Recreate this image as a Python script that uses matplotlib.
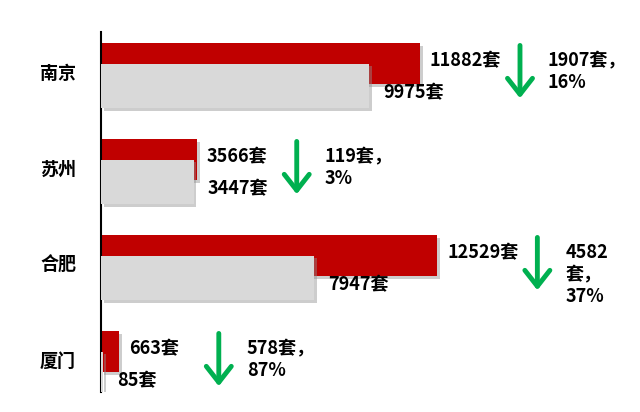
import numpy as np
import matplotlib
matplotlib.use('Agg')
from matplotlib import pyplot as plt
from matplotlib import patheffects
from matplotlib.transforms import offset_copy

plt.rcParams['font.family'] = ['Noto Sans CJK SC', 'DejaVu Sans']

cities = ['南京', '苏州', '合肥', '厦门']
before = [11882, 3566, 12529, 663]
after = [9975, 3447, 7947, 85]
change_labels = ['1907套，\n16%', '119套，\n3%', '4582\n套，\n37%', '578套，\n87%']

_red = '#C00000'
_gray = '#D9D9D9'
_green = '#00B050'
_px = 0.72  # pixels -> points at 100 dpi

fig = plt.figure(figsize=(6.4, 4.12), dpi=100)
ax = fig.add_axes([101/640, 20/412, 539/640, 360/412])

shadow = [patheffects.withSimplePatchShadow(offset=(2, -2), shadow_rgbFace='#909090', alpha=0.45)]
rows = np.arange(len(cities))
ax.barh(rows, before, height=0.43, color=_red, path_effects=shadow, zorder=2)
ax.barh(rows + 0.23, after, height=0.46, color=_gray, path_effects=shadow, zorder=3)

txt = dict(fontsize=13, fontweight='bold', color='black', zorder=5)
for i, (b, a, lab) in enumerate(zip(before, after, change_labels)):
    ax.annotate(f'{b}套', xy=(b, i - 0.03), xytext=(10*_px, 0), textcoords='offset points',
                ha='left', va='center', **txt)
    ax.annotate(f'{a}套', xy=(a, i + 0.3), xytext=(14*_px, 0), textcoords='offset points',
                ha='left', va='center', **txt)
    # green arrow and change text sit to the right of the red bar
    tr = offset_copy(ax.transData, fig=fig, x=100*_px, y=0, units='points')
    ax.annotate('', xy=(b, i + 0.36), xycoords=tr, xytext=(b, i - 0.19), textcoords=tr,
                arrowprops=dict(arrowstyle='->,head_length=1.15,head_width=0.9', lw=3.5,
                                color=_green, mutation_scale=10, shrinkA=0, shrinkB=0))
    ax.annotate(lab, xy=(b, i - 0.13), xytext=(128*_px, 0), textcoords='offset points',
                ha='left', va='top', linespacing=1.2, **txt)

ax.set_xlim(0, 20077)
ax.set_ylim(3.42, -0.33)
ax.set_xticks([])
ax.set_yticks(rows + 0.08)
ax.set_yticklabels(cities, fontsize=13, fontweight='bold')
ax.tick_params(axis='y', length=0, pad=18)
for side in ['top', 'right', 'bottom']:
    ax.spines[side].set_visible(False)
ax.spines['left'].set_linewidth(1.5)
ax.patch.set_alpha(0)

fig.savefig('out.png', dpi=100)
